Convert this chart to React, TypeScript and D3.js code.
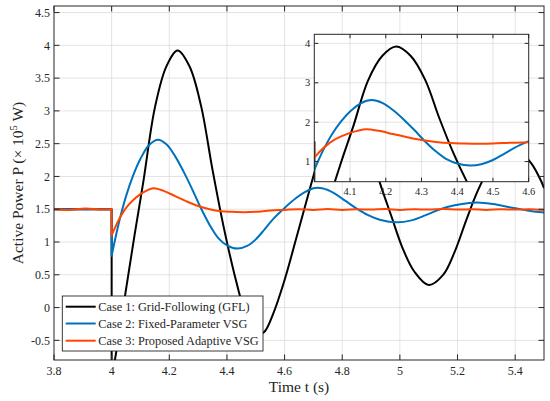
import React, { useEffect, useRef } from 'react';
import * as d3 from 'd3';

// steady state before the fault at t = 4 s
const preT = [3.8, 3.85, 3.91, 3.96, 4.0];
const gflPre = [1.5, 1.5, 1.5, 1.5, 1.5];
const vsgPre = [1.5, 1.5, 1.5, 1.5, 1.5];
const adpPre = [1.5, 1.49, 1.51, 1.495, 1.5];

// Case 1: Grid-Following (GFL)
const gflT = [4.0, 4.012, 4.03, 4.05, 4.08, 4.11, 4.15, 4.19, 4.229, 4.27, 4.31, 4.35, 4.39, 4.427, 4.46, 4.485, 4.505, 4.53, 4.56, 4.6, 4.64, 4.687, 4.72, 4.76, 4.815, 4.87, 4.93, 4.97, 5.01, 5.05, 5.1, 5.15, 5.19, 5.23, 5.27, 5.31, 5.35, 5.385, 5.42, 5.456, 5.49, 5.5];
const gflP = [-1.05, -0.78, -0.28, 0.28, 1.12, 1.92, 3.05, 3.68, 3.92, 3.68, 3.08, 2.1, 1.2, 0.49, -0.05, -0.32, -0.42, -0.37, -0.1, 0.42, 1.05, 1.8, 2.3, 2.78, 3.0, 2.75, 1.91, 1.4, 0.9, 0.55, 0.345, 0.5, 0.85, 1.33, 1.78, 2.12, 2.35, 2.42, 2.36, 2.2, 1.93, 1.82];

// Case 2: Fixed-Parameter VSG
const vsgT = [4.0, 4.015, 4.03, 4.05, 4.075, 4.1, 4.13, 4.161, 4.19, 4.22, 4.25, 4.28, 4.306, 4.34, 4.37, 4.4, 4.436, 4.47, 4.5, 4.53, 4.56, 4.6, 4.64, 4.67, 4.7, 4.73, 4.77, 4.81, 4.85, 4.89, 4.93, 4.99, 5.04, 5.09, 5.14, 5.19, 5.24, 5.28, 5.33, 5.38, 5.43, 5.47, 5.5];
const vsgP = [0.79, 1.1, 1.38, 1.7, 2.02, 2.27, 2.48, 2.56, 2.49, 2.31, 2.07, 1.8, 1.55, 1.26, 1.06, 0.95, 0.9, 0.94, 1.04, 1.19, 1.35, 1.52, 1.67, 1.76, 1.82, 1.82, 1.75, 1.63, 1.51, 1.41, 1.34, 1.3, 1.33, 1.41, 1.5, 1.56, 1.595, 1.6, 1.575, 1.53, 1.49, 1.46, 1.45];

// Case 3: Proposed Adaptive VSG
const adpT = [4.0, 4.015, 4.03, 4.05, 4.075, 4.1, 4.12, 4.145, 4.18, 4.22, 4.26, 4.3, 4.34, 4.38, 4.42, 4.46, 4.5, 4.55, 4.6, 4.65, 4.7, 4.75, 4.8, 4.85, 4.9, 4.95, 5.0, 5.05, 5.1, 5.15, 5.2, 5.25, 5.3, 5.35, 5.4, 5.45, 5.5];
const adpP = [1.1, 1.25, 1.38, 1.52, 1.64, 1.73, 1.78, 1.82, 1.78, 1.7, 1.62, 1.55, 1.5, 1.47, 1.46, 1.455, 1.46, 1.48, 1.49, 1.5, 1.49, 1.505, 1.49, 1.5, 1.495, 1.505, 1.49, 1.5, 1.495, 1.505, 1.495, 1.5, 1.49, 1.5, 1.495, 1.5, 1.49];

const xTicks = [3.8, 4, 4.2, 4.4, 4.6, 4.8, 5, 5.2, 5.4];
const yTicks = [-0.5, 0, 0.5, 1, 1.5, 2, 2.5, 3, 3.5, 4, 4.5];
const insetXTicks = [4.1, 4.2, 4.3, 4.4, 4.5, 4.6];
const insetYTicks = [1, 2, 3, 4];

const legendLabels = [
  'Case 1: Grid-Following (GFL)',
  'Case 2: Fixed-Parameter VSG',
  'Case 3: Proposed Adaptive VSG',
];
const colors = ['#000000', '#0072BD', '#FF4500'];

const FONT = "'Liberation Serif', 'Times New Roman', serif";
const AXIS = '#262626';
const GRID = '#dcdcdc';

const App: React.FC = () => {
  const svgRef = useRef<SVGSVGElement | null>(null);

  useEffect(() => {
    if (!svgRef.current) return;
    const svg = d3.select(svgRef.current);
    svg.selectAll('*').remove();

    const series = [
      { pre: preT.map((t, i) => [t, gflPre[i]]), post: gflT.map((t, i) => [t, gflP[i]]) },
      { pre: preT.map((t, i) => [t, vsgPre[i]]), post: vsgT.map((t, i) => [t, vsgP[i]]) },
      { pre: preT.map((t, i) => [t, adpPre[i]]), post: adpT.map((t, i) => [t, adpP[i]]) },
    ];

    const defs = svg.append('defs');

    const drawPanel = (
      id: string,
      xs: d3.ScaleLinear<number, number>,
      ys: d3.ScaleLinear<number, number>,
      xt: number[],
      yt: number[],
      tickLen: number,
      fontSize: number,
    ) => {
      const [x0, x1] = xs.range();
      const [y0, y1] = ys.range(); // y0 = bottom, y1 = top
      const g = svg.append('g');

      g.append('rect')
        .attr('x', x0).attr('y', y1)
        .attr('width', x1 - x0).attr('height', y0 - y1)
        .attr('fill', 'white');

      // grid
      g.selectAll('.gx').data(xt.filter((v) => xs(v) > x0 + 1 && xs(v) < x1 - 1)).join('line')
        .attr('x1', (d) => xs(d)).attr('x2', (d) => xs(d))
        .attr('y1', y0).attr('y2', y1)
        .attr('stroke', GRID).attr('stroke-width', 0.8);
      g.selectAll('.gy').data(yt).join('line')
        .attr('y1', (d) => ys(d)).attr('y2', (d) => ys(d))
        .attr('x1', x0).attr('x2', x1)
        .attr('stroke', GRID).attr('stroke-width', 0.8);

      defs.append('clipPath').attr('id', id)
        .append('rect')
        .attr('x', x0).attr('y', y1)
        .attr('width', x1 - x0).attr('height', y0 - y1);

      const line = d3.line<number[]>()
        .x((d) => xs(d[0]))
        .y((d) => ys(d[1]))
        .curve(d3.curveCatmullRom.alpha(0.5));

      const curves = g.append('g').attr('clip-path', `url(#${id})`);
      series.forEach((s, i) => {
        const post = line(s.post) || '';
        const d = (line(s.pre) || '') + post.replace(/^M/, 'L');
        curves.append('path')
          .attr('d', d)
          .attr('fill', 'none')
          .attr('stroke', colors[i])
          .attr('stroke-width', 2)
          .attr('stroke-linejoin', 'round');
      });

      // frame
      g.append('rect')
        .attr('x', x0).attr('y', y1)
        .attr('width', x1 - x0).attr('height', y0 - y1)
        .attr('fill', 'none').attr('stroke', AXIS).attr('stroke-width', 1);

      // inward ticks on all four sides
      xt.forEach((v) => {
        g.append('line').attr('x1', xs(v)).attr('x2', xs(v)).attr('y1', y0).attr('y2', y0 - tickLen).attr('stroke', AXIS);
        g.append('line').attr('x1', xs(v)).attr('x2', xs(v)).attr('y1', y1).attr('y2', y1 + tickLen).attr('stroke', AXIS);
        g.append('text')
          .attr('x', xs(v)).attr('y', y0 + fontSize + 3)
          .attr('text-anchor', 'middle')
          .attr('font-family', FONT).attr('font-size', fontSize)
          .attr('fill', AXIS)
          .text(String(v));
      });
      yt.forEach((v) => {
        g.append('line').attr('y1', ys(v)).attr('y2', ys(v)).attr('x1', x0).attr('x2', x0 + tickLen).attr('stroke', AXIS);
        g.append('line').attr('y1', ys(v)).attr('y2', ys(v)).attr('x1', x1).attr('x2', x1 - tickLen).attr('stroke', AXIS);
        g.append('text')
          .attr('x', x0 - 4).attr('y', ys(v))
          .attr('dy', '0.35em')
          .attr('text-anchor', 'end')
          .attr('font-family', FONT).attr('font-size', fontSize)
          .attr('fill', AXIS)
          .text(String(v));
      });
    };

    const xMain = d3.scaleLinear().domain([3.8, 5.5]).range([54, 544]);
    const yMain = d3.scaleLinear().domain([-0.8, 4.6]).range([360, 6]);
    drawPanel('clip-main', xMain, yMain, xTicks, yTicks, 5.5, 12);

    // axis titles
    svg.append('text')
      .attr('x', 299).attr('y', 392)
      .attr('text-anchor', 'middle')
      .attr('font-family', FONT).attr('font-size', 15.5)
      .attr('fill', AXIS)
      .text('Time t (s)');

    const yl = svg.append('text')
      .attr('transform', 'translate(23,183) rotate(-90)')
      .attr('text-anchor', 'middle')
      .attr('font-family', FONT).attr('font-size', 15.5)
      .attr('fill', AXIS);
    yl.append('tspan').text('Active Power P (× 10');
    yl.append('tspan').attr('dy', -6).attr('font-size', 10.5).text('5');
    yl.append('tspan').attr('dy', 6).text(' W)');

    // legend
    const lg = svg.append('g');
    lg.append('rect')
      .attr('x', 62.3).attr('y', 296)
      .attr('width', 200.7).attr('height', 55)
      .attr('fill', 'white').attr('stroke', AXIS).attr('stroke-width', 0.9);
    const rows = [306.7, 323.5, 340.7];
    legendLabels.forEach((label, i) => {
      lg.append('line')
        .attr('x1', 65.7).attr('x2', 95.7)
        .attr('y1', rows[i]).attr('y2', rows[i])
        .attr('stroke', colors[i]).attr('stroke-width', 2);
      lg.append('text')
        .attr('x', 98.3).attr('y', rows[i])
        .attr('dy', '0.35em')
        .attr('font-family', FONT).attr('font-size', 12.3)
        .attr('fill', AXIS)
        .text(label);
    });

    // zoomed inset
    const xIn = d3.scaleLinear().domain([4, 4.6]).range([314.3, 528.7]);
    const yIn = d3.scaleLinear().domain([0.49, 4.23]).range([181.7, 34.3]);
    drawPanel('clip-inset', xIn, yIn, insetXTicks, insetYTicks, 4, 10.5);
  }, []);

  return (
    <svg
      ref={svgRef}
      width={550}
      height={401}
      style={{ position: 'absolute', left: 0, top: 0, background: 'white' }}
    />
  );
};

export default App;
